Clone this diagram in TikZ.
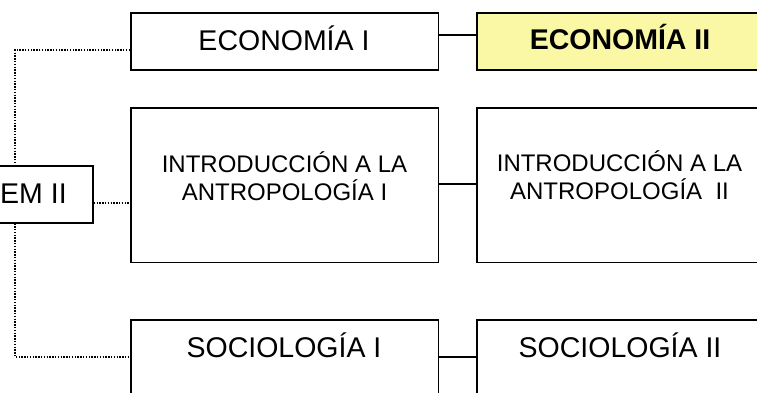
\documentclass[tikz,border=0pt]{standalone}
\usepackage{fontspec}
\setmainfont{Liberation Sans}
\definecolor{paleyellow}{RGB}{250,248,165}
\begin{document}
\begin{tikzpicture}[x=1pt,y=-1pt,
  box/.style={draw, line width=1.7pt, inner sep=0pt, anchor=north west, fill=white},
  lbl/.style={anchor=base, inner sep=0pt, font=\fontsize{28.5}{28.5}\selectfont},
  lbltwo/.style={anchor=base, inner sep=0pt, align=center, font=\fontsize{24}{28}\selectfont},
  dotline/.style={line width=1.5pt, dash pattern=on 1.4pt off 1.4pt},
  link/.style={line width=1.2pt}]
\useasboundingbox (0,0) rectangle (757,393);
\clip (0,0) rectangle (757,393);
% trunk coordinates
\coordinate (t) at (15,50);
\coordinate (m) at (15,203);
\coordinate (b) at (15,357);
\coordinate (r1) at (0,35);
\coordinate (r2) at (0,184);
\coordinate (r3) at (0,357);
% boxes
\node[box, minimum width=307.5pt, minimum height=57pt] (econ1) at (130,12) {};
\node[box, minimum width=288pt, minimum height=57pt, fill=paleyellow] (econ2) at (476,12) {};
\node[box, minimum width=307.5pt, minimum height=154.5pt] (intro1) at (130,107) {};
\node[box, minimum width=288pt, minimum height=154.5pt] (intro2) at (476,107) {};
\node[box, minimum width=307.5pt, minimum height=154pt] (soc1) at (130,319) {};
\node[box, minimum width=288pt, minimum height=154pt] (soc2) at (476,319) {};
% dotted connectors
\draw[dotline] (econ1.west |- t) -- (t) -- (b) -- (soc1.west |- b);
\node[box, minimum width=132pt, minimum height=57pt] (sem) at (-40,165) {};
\draw[dotline] (sem.east |- m) -- (intro1.west |- m);
% solid connectors
\draw[link] (econ1.east |- r1) -- (econ2.west |- r1);
\draw[link] (intro1.east |- r2) -- (intro2.west |- r2);
\draw[link] (soc1.east |- r3) -- (soc2.west |- r3);
% texts
\node[lbl, anchor=base west] (semt) at (0,203) {EM II};
\node[lbl] (econ1t) at (284,51) {ECONOMÍA I};
\node[lbl, font=\fontsize{28.5}{28.5}\selectfont\bfseries] (econ2t) at (620,50) {ECONOMÍA II};
\node[lbltwo] (intro1t) at (284.5,200) {INTRODUCCIÓN A LA\\ANTROPOLOGÍA I};
\node[lbltwo] (intro2t) at (619.5,199) {INTRODUCCIÓN A LA\\ANTROPOLOGÍA\ \ II};
\node[lbl] (soc1t) at (284,357) {SOCIOLOGÍA I};
\node[lbl] (soc2t) at (620,357) {SOCIOLOGÍA II};
\end{tikzpicture}
\end{document}
